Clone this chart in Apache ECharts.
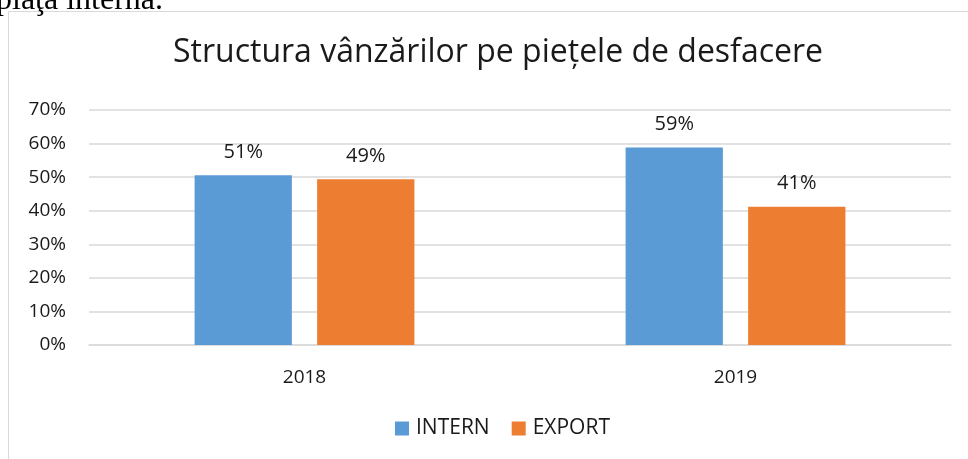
<html>
<head>
<meta charset="utf-8">
<script src="https://cdn.jsdelivr.net/npm/echarts@6/dist/echarts.min.js"></script>
<style>
    body { margin: 0; padding: 0; background: #fff; }
    #content { width: 968px; height: 459px; }
</style>
</head>
<body>
<div id="content"></div>
<script type="text/javascript">
    // values (percent)
    var years = ['2018', '2019'];
    var intern = [50.6, 58.8];
    var exportVals = [49.4, 41.2];
    var seriesNames = ['INTERN', 'EXPORT'];

    var fontName = 'Open Sans';
    var txtColor = '#1a1a1a';

    var chart = echarts.init(document.getElementById('content'));

    function pctLabel(p) {
        return Math.round(p.value) + '%';
    }

    const option = {
        animation: false,
        textStyle: { fontFamily: fontName },
        title: {
            text: 'Structura vânzărilor pe piețele de desfacere',
            left: 168,
            top: 32,
            textStyle: { fontFamily: fontName, fontSize: 32, fontWeight: 'normal', color: txtColor }
        },
        graphic: [
            {
                // frame of the chart box, cut off by the page edge
                type: 'rect',
                shape: { x: 8.5, y: 11.5, width: 1000, height: 500 },
                style: { fill: null, stroke: '#d9d9d9', lineWidth: 1 },
                silent: true
            },
            {
                // bottom of the text line above the chart
                type: 'text',
                left: -4,
                top: -15,
                style: { text: 'piaţa internă.', font: '32px "Liberation Serif"', fill: '#000' },
                silent: true
            }
        ],
        legend: {
            data: seriesNames,
            bottom: 15,
            left: 390,
            itemWidth: 14,
            itemHeight: 14,
            itemGap: 22,
            icon: 'rect',
            textStyle: { fontFamily: fontName, fontSize: 21, color: txtColor, padding: [0, 0, 0, 2] }
        },
        grid: { left: 89, right: 17, top: 110, bottom: 114, containLabel: false },
        xAxis: {
            type: 'category',
            data: years,
            axisLine: { lineStyle: { color: '#d9d9d9', width: 1.5 } },
            axisTick: { show: false },
            axisLabel: { fontFamily: fontName, fontSize: 19, color: txtColor, margin: 23 }
        },
        yAxis: {
            type: 'value',
            min: 0,
            max: 70,
            interval: 10,
            axisLine: { show: false },
            axisTick: { show: false },
            splitLine: { lineStyle: { color: '#d9d9d9', width: 1.5 } },
            axisLabel: { fontFamily: fontName, fontSize: 19, color: txtColor, margin: 23, formatter: '{value}%' }
        },
        series: [{
            name: seriesNames[0],
            type: 'bar',
            data: intern,
            barGap: '26%',
            barCategoryGap: '49%',
            itemStyle: { color: '#5B9BD5' },
            label: { show: true, position: 'top', distance: 13, formatter: pctLabel, fontFamily: fontName, fontSize: 20, color: txtColor }
        }, {
            name: seriesNames[1],
            type: 'bar',
            data: exportVals,
            itemStyle: { color: '#ED7D31' },
            label: { show: true, position: 'top', distance: 13, formatter: pctLabel, fontFamily: fontName, fontSize: 20, color: txtColor }
        }]
    };
    chart.setOption(option);
</script>
</body>
</html>
